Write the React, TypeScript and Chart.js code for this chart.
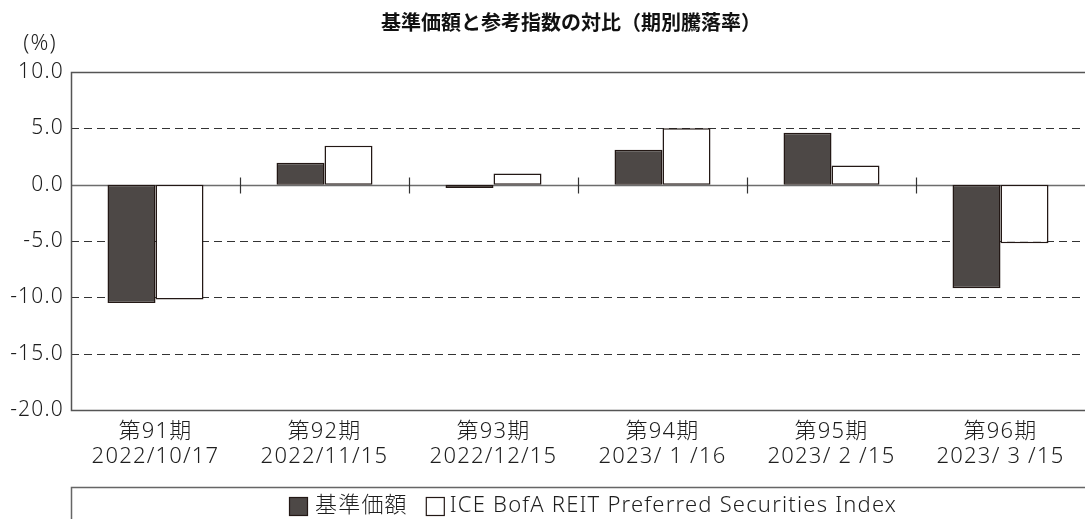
import React, { useEffect, useRef } from "react";
import { Chart, registerables } from "chart.js";

Chart.register(...registerables);

const periods = ["第91期", "第92期", "第93期", "第94期", "第95期", "第96期"];
const dates = ["2022/10/17", "2022/11/15", "2022/12/15", "2023/ 1 /16", "2023/ 2 /15", "2023/ 3 /15"];
const navValues = [-10.5, 1.95, -0.3, 3.1, 4.6, -9.2];
const indexValues = [-10.2, 3.45, 1.0, 5.0, 1.7, -5.2];
const seriesNames = ["基準価額", "ICE BofA REIT Preferred Securities Index"];
const yTicks = [10, 5, 0, -5, -10, -15, -20];
const titleText = "基準価額と参考指数の対比（期別騰落率）";
const unitText = "(%)";

const FONT = "'Noto Sans', 'Noto Sans CJK JP', sans-serif";
const TFONT = "'Noto Sans CJK JP', sans-serif";
const TEXT = "#1e1e1e";
const LINE = "#231815";
const DARK = "#4d4846";
const FS = 22;
const SPACING = "1.2px";

const customPlugin = {
  id: "custom",
  beforeDraw(chart: any) {
    chart.ctx.letterSpacing = SPACING;
  },
  beforeDatasetsDraw(chart: any) {
    const { ctx, chartArea } = chart;
    const y = chart.scales.y;
    const x = chart.scales.x;
    ctx.save();
    yTicks.forEach((v) => {
      if (v === 10 || v === -20 || v === 0) return;
      const py = Math.round(y.getPixelForValue(v)) + 0.5;
      ctx.beginPath();
      ctx.setLineDash([8, 5]);
      ctx.strokeStyle = "#333";
      ctx.lineWidth = 1.2;
      ctx.moveTo(chartArea.left, py);
      ctx.lineTo(chartArea.right, py);
      ctx.stroke();
    });
    ctx.setLineDash([]);
    const zy = Math.round(y.getPixelForValue(0)) + 0.5;
    ctx.strokeStyle = "#6d6d6d";
    ctx.lineWidth = 1.5;
    ctx.beginPath();
    ctx.moveTo(chartArea.left, zy);
    ctx.lineTo(chartArea.right, zy);
    ctx.stroke();
    ctx.strokeStyle = "#333";
    ctx.lineWidth = 1.2;
    for (let i = 1; i < periods.length; i++) {
      const px = Math.round((x.getPixelForValue(i - 1) + x.getPixelForValue(i)) / 2) + 0.5;
      ctx.beginPath();
      ctx.moveTo(px, zy - 8);
      ctx.lineTo(px, zy + 8);
      ctx.stroke();
    }
    ctx.strokeStyle = "#555";
    ctx.lineWidth = 1.5;
    const top = Math.round(y.getPixelForValue(10)) + 0.5;
    const bot = Math.round(y.getPixelForValue(-20)) + 0.5;
    ctx.beginPath();
    ctx.moveTo(chartArea.right, top);
    ctx.lineTo(chartArea.left + 0.5, top);
    ctx.lineTo(chartArea.left + 0.5, bot);
    ctx.lineTo(chartArea.right, bot);
    ctx.stroke();
    ctx.restore();
  },
  afterDraw(chart: any) {
    const { ctx, chartArea } = chart;
    ctx.save();
    ctx.letterSpacing = "0px";
    ctx.fillStyle = "#111";
    ctx.font = `bold 20px ${TFONT}`;
    ctx.textAlign = "center";
    ctx.textBaseline = "middle";
    ctx.fillText(titleText, 571, 22);
    ctx.letterSpacing = SPACING;
    ctx.font = `300 ${FS}px ${FONT}`;
    ctx.fillStyle = TEXT;
    ctx.fillText(unitText, 40, 44);
    ctx.strokeStyle = "#666";
    ctx.lineWidth = 1.5;
    ctx.beginPath();
    ctx.moveTo(chart.width + 2, 487.5);
    ctx.lineTo(chartArea.left + 0.5, 487.5);
    ctx.lineTo(chartArea.left + 0.5, chart.height + 2);
    ctx.stroke();
    const ly = 506;
    ctx.textAlign = "left";
    ctx.textBaseline = "middle";
    ctx.font = `300 ${FS}px ${FONT}`;
    let lx = 289;
    ctx.fillStyle = DARK;
    ctx.fillRect(lx, ly - 9, 19, 19);
    ctx.strokeStyle = LINE;
    ctx.lineWidth = 1.2;
    ctx.strokeRect(lx + 0.5, ly - 8.5, 18, 18);
    ctx.fillStyle = TEXT;
    ctx.fillText(seriesNames[0], lx + 26, ly);
    lx = lx + 26 + ctx.measureText(seriesNames[0]).width + 18;
    ctx.fillStyle = "#fff";
    ctx.fillRect(lx, ly - 9, 19, 19);
    ctx.strokeRect(lx + 0.5, ly - 8.5, 18, 18);
    ctx.fillStyle = TEXT;
    ctx.fillText(seriesNames[1], lx + 24, ly);
    ctx.restore();
  },
};

export default function App() {
  const ref = useRef<HTMLCanvasElement>(null);
  useEffect(() => {
    if (!ref.current) return;
    const chart = new Chart(ref.current, {
      type: "bar",
      data: {
        labels: periods.map((p, i) => [p, dates[i]]),
        datasets: [
          {
            label: seriesNames[0],
            data: navValues,
            backgroundColor: DARK,
            borderColor: LINE,
            borderWidth: 1.5,
            borderSkipped: false,
          },
          {
            label: seriesNames[1],
            data: indexValues,
            backgroundColor: "#ffffff",
            borderColor: LINE,
            borderWidth: 1.5,
            borderSkipped: false,
          },
        ],
      },
      plugins: [customPlugin],
      options: {
        responsive: false,
        animation: false,
        devicePixelRatio: 1,
        layout: { padding: { top: 72, left: 0, right: 0, bottom: 32 } },
        categoryPercentage: 0.568,
        barPercentage: 1.0,
        plugins: { legend: { display: false }, title: { display: false }, tooltip: { enabled: false } },
        scales: {
          x: {
            grid: { display: false },
            border: { display: false },
            ticks: {
              color: TEXT,
              font: { family: FONT, size: FS, weight: 300, lineHeight: 1.1 },
              padding: 2,
              maxRotation: 0,
              autoSkip: false,
            },
            afterFit: (s: any) => {
              s.height = 77;
            },
          },
          y: {
            min: -20,
            max: 10,
            grid: { display: false },
            border: { display: false },
            ticks: {
              stepSize: 5,
              color: TEXT,
              font: { family: FONT, size: 21, weight: 300 },
              padding: -1,
              callback: (v: any) => Number(v).toFixed(1),
            },
            afterFit: (s: any) => {
              s.width = 71;
            },
          },
        },
      } as any,
    });
    return () => chart.destroy();
  }, []);
  return (
    <canvas
      ref={ref}
      width={1085}
      height={519}
      style={{ position: "absolute", left: 0, top: 0, width: 1085, height: 519 }}
    />
  );
}
